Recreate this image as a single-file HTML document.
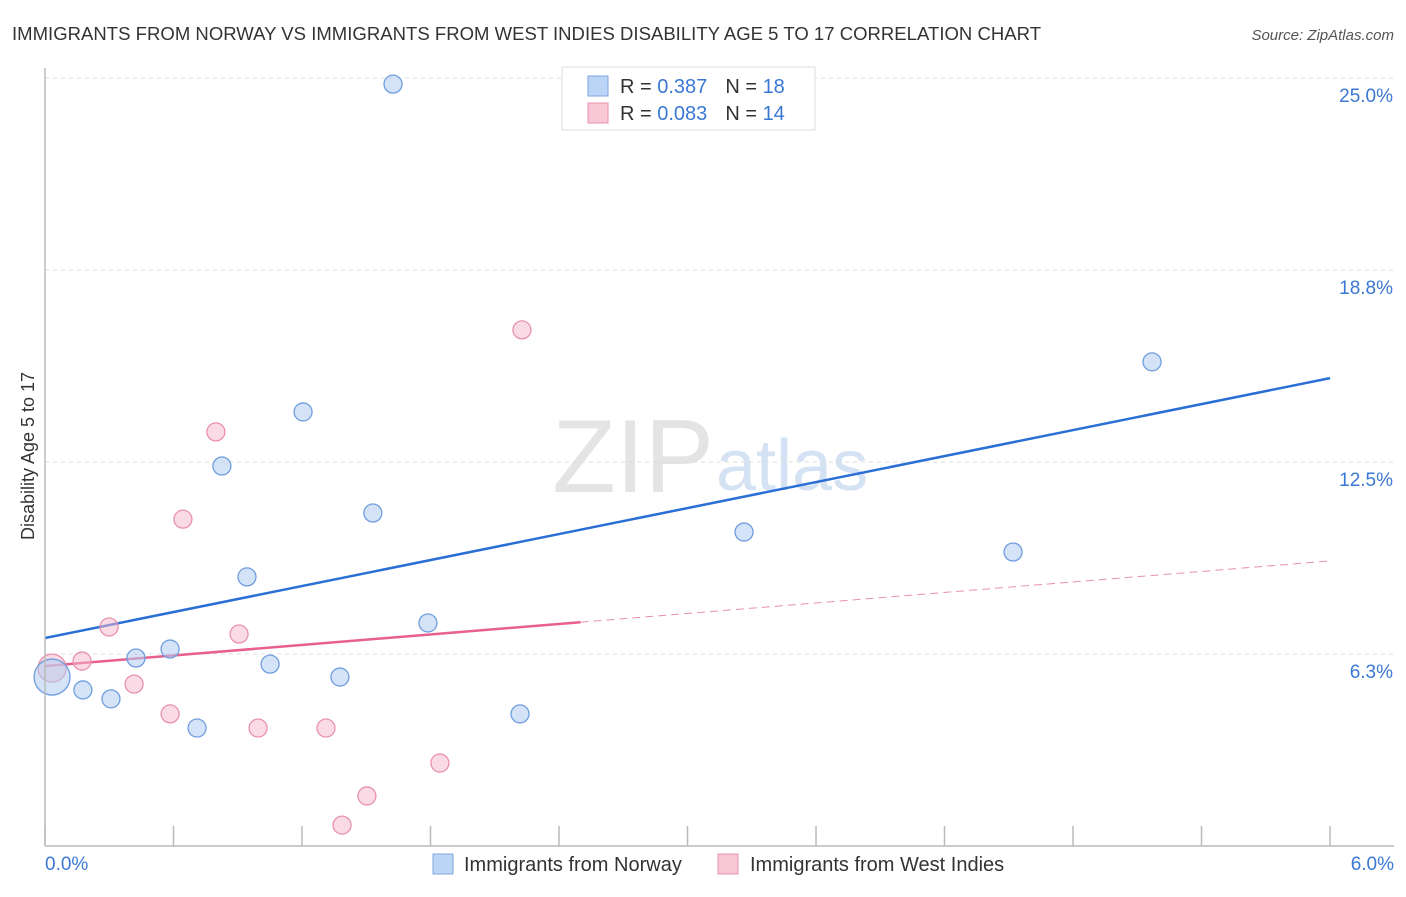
<!DOCTYPE html>
<html><head><meta charset="utf-8"><style>
body{margin:0;background:#fff;font-family:"Liberation Sans",sans-serif;}
svg text{font-family:"Liberation Sans",sans-serif;}
</style></head><body>
<svg id="chart" width="1406" height="892">
<text x="12" y="40" font-size="18.5" fill="#333" textLength="1029">IMMIGRANTS FROM NORWAY VS IMMIGRANTS FROM WEST INDIES DISABILITY AGE 5 TO 17 CORRELATION CHART</text>
<text x="1394" y="40" font-size="15" fill="#555" font-style="italic" text-anchor="end">Source: ZipAtlas.com</text>
<text x="714" y="492" font-size="104" fill="#e4e4e4" text-anchor="end" font-family="Liberation Serif">ZIP</text>
<text x="716" y="490" font-size="72" fill="#d4e2f4">atlas</text>
<text transform="translate(34,456) rotate(-90)" font-size="18" fill="#333" text-anchor="middle">Disability Age 5 to 17</text>
<g id="grid"></g><g id="trends"></g><g id="pts"></g><g id="axes"></g>
<g>
<rect x="562" y="67" width="253" height="63" fill="#fff" stroke="#ddd"/>
<rect x="588" y="76" width="20" height="20" fill="#bcd4f5" stroke="#7ea6e0"/>
<rect x="588" y="103" width="20" height="20" fill="#f8c8d6" stroke="#e891ac"/>
<text x="620" y="93" font-size="20" fill="#333">R = <tspan fill="#3a78d4">0.387</tspan><tspan dx="18">N = </tspan><tspan fill="#3a78d4">18</tspan></text>
<text x="620" y="120" font-size="20" fill="#333">R = <tspan fill="#3a78d4">0.083</tspan><tspan dx="18">N = </tspan><tspan fill="#3a78d4">14</tspan></text>
</g>
<g>
<rect x="433" y="854" width="20" height="20" fill="#bcd4f5" stroke="#7ea6e0"/>
<text x="464" y="871" font-size="20" fill="#333">Immigrants from Norway</text>
<rect x="718" y="854" width="20" height="20" fill="#f8c8d6" stroke="#e891ac"/>
<text x="750" y="871" font-size="20" fill="#333">Immigrants from West Indies</text>
</g>
</svg>
<script>
const norwayX=[1.625,5.169,1.205,0.826,1.531,3.264,4.52,0.943,1.788,0.584,0.425,1.051,1.377,0.177,0.308,0.71,2.218,0.033];
const norwayY=[24.80,15.76,14.13,12.37,10.84,10.22,9.57,8.76,7.26,6.41,6.12,5.92,5.50,5.08,4.79,3.84,4.30,5.50];
const wiX=[2.227,0.798,0.644,0.299,0.906,0.173,0.033,0.416,0.584,0.995,1.312,1.844,1.503,1.387];
const wiY=[16.80,13.48,10.64,7.13,6.90,6.02,5.79,5.27,4.30,3.84,3.84,2.70,1.63,0.68];
const yTicks=[25.0,18.75,12.5,6.25];
const yTickLabels=["25.0%","18.8%","12.5%","6.3%"];
const norwayTrend=[6.77,15.23];
const wiTrend=[5.86,9.28];
const wiSolidEnd=2.5;
const NS="http://www.w3.org/2000/svg";
const X=v=>45+v*214.17, Y=v=>846-v*30.72;
function mk(t,a,p){const e=document.createElementNS(NS,t);for(const k in a)e.setAttribute(k,a[k]);p.appendChild(e);return e;}
const grid=document.getElementById('grid'),axes=document.getElementById('axes'),tr=document.getElementById('trends'),pts=document.getElementById('pts');
yTicks.forEach((t,i)=>{
const l=mk('line',{x1:45,x2:1394,y1:Y(t),y2:Y(t),stroke:'#ddd','stroke-dasharray':'4,4'},grid);


const tx=mk('text',{x:1393,y:Y(t)+24,'font-size':19,fill:'#3a78d4','text-anchor':'end'},axes);tx.textContent=yTickLabels[i];

});
const ax=mk('line',{x1:45,x2:45,y1:68,y2:846,stroke:'#bbb','stroke-width':1.5},axes);


const bx=mk('line',{x1:45,x2:1394,y1:846,y2:846,stroke:'#bbb','stroke-width':1.5},axes);


for(let i=0;i<=10;i++){const t=mk('line',{x1:X(i*0.6),x2:X(i*0.6),y1:826,y2:846,stroke:'#bbb','stroke-width':1.5},axes);

}
[[0,'0.0%','start',45],[6,'6.0%','end',1394]].forEach(d=>{const t=mk('text',{x:d[3],y:870,'font-size':19,fill:'#3a78d4','text-anchor':d[2]},axes);t.textContent=d[1];

});
const bl=mk('line',{x1:X(0),y1:Y(norwayTrend[0]),x2:X(6),y2:Y(norwayTrend[1]),stroke:'#2a6fd6','stroke-width':2.5},tr);


const wy=v=>wiTrend[0]+(wiTrend[1]-wiTrend[0])*v/6;
const pl=mk('line',{x1:X(0),y1:Y(wiTrend[0]),x2:X(wiSolidEnd),y2:Y(wy(wiSolidEnd)),stroke:'#e8608e','stroke-width':2.5},tr);


const pd=mk('line',{x1:X(wiSolidEnd),y1:Y(wy(wiSolidEnd)),x2:X(6),y2:Y(wiTrend[1]),stroke:'#e891ac','stroke-width':1,'stroke-dasharray':'8,5'},tr);


wiX.forEach((v,i)=>{const c=mk('circle',{cx:X(v),cy:Y(wiY[i]),r:i===6?14:9,fill:'rgba(246,184,204,0.5)',stroke:'#e891ac','stroke-width':1.3},pts);

});
norwayX.forEach((v,i)=>{const c=mk('circle',{cx:X(v),cy:Y(norwayY[i]),r:i===17?18:9,fill:'rgba(176,204,242,0.55)',stroke:'#6f9ede','stroke-width':1.3},pts);

});
</script>
</body></html>
